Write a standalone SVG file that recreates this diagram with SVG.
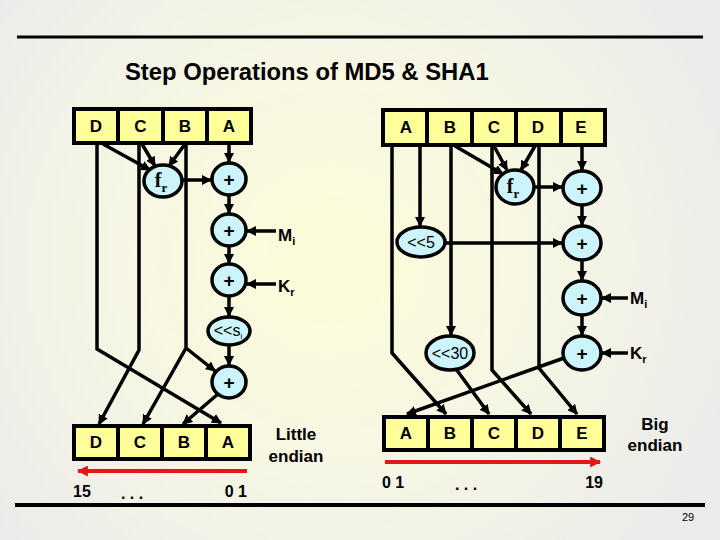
<svg xmlns="http://www.w3.org/2000/svg" width="720" height="540" viewBox="0 0 720 540">
<defs>
<radialGradient id="bg" cx="330" cy="260" r="430" gradientUnits="userSpaceOnUse">
<stop offset="0" stop-color="#fcfcd8"/>
<stop offset="0.5" stop-color="#f6f6e4"/>
<stop offset="1" stop-color="#ebebeb"/>
</radialGradient>
<marker id="ah" viewBox="0 0 10 10" refX="9" refY="5" markerWidth="10" markerHeight="10" markerUnits="userSpaceOnUse" orient="auto"><path d="M0,0 L10,5 L0,10 z" fill="#000"/></marker>
<marker id="rh" viewBox="0 0 10 10" refX="9" refY="5" markerWidth="11" markerHeight="11" markerUnits="userSpaceOnUse" orient="auto"><path d="M0,0 L10,5 L0,10 z" fill="#e01818"/></marker>
</defs>
<style>
.cell{fill:#ffff99;stroke:#000;stroke-width:4}
.op{fill:#ccf4fb;stroke:#000;stroke-width:3.5}
.t{font-family:"Liberation Sans",Arial,sans-serif;font-weight:bold;fill:#000}
.lbl{font-size:17px;text-anchor:middle}
.plus{font-size:19px;text-anchor:middle}
.fr{font-family:"Liberation Serif","Times New Roman",serif;font-weight:bold;font-size:20px;text-anchor:middle}
.ln{fill:none;stroke:#000;stroke-width:3.5;stroke-linejoin:miter}
.arr{marker-end:url(#ah)}
.red{fill:none;stroke:#e01818;stroke-width:4;marker-end:url(#rh)}
.sh{font-family:"Liberation Sans",Arial,sans-serif;font-size:16px;text-anchor:middle;fill:#000}
</style>
<rect width="720" height="540" fill="url(#bg)"/>
<line x1="17" y1="37" x2="703" y2="37" stroke="#000" stroke-width="3"/>
<line x1="15" y1="505" x2="705" y2="505" stroke="#000" stroke-width="4"/>
<text class="t" x="125" y="80" font-size="23.8" font-weight="bold">Step Operations of MD5 &amp; SHA1</text>

<g id="connectors">
<path class="ln arr" d="M97,143 V349 L221,423"/>
<path class="ln arr" d="M139,143 V350 L99,424"/>
<path class="ln arr" d="M186,143 V348 L143,424"/>
<path class="ln arr" d="M186,348 L215,371"/>
<path class="ln arr" d="M218,394 L183,424"/>
<path class="ln arr" d="M103,144 L150,170"/>
<path class="ln arr" d="M142,144 L155,166"/>
<path class="ln arr" d="M185,144 L169,166"/>
<path class="ln arr" d="M182,180 L211,180"/>
<path class="ln arr" d="M229,144 V162"/>
<path class="ln arr" d="M229,195 V213"/>
<path class="ln arr" d="M229,246 V263"/>
<path class="ln arr" d="M229,296 V316"/>
<path class="ln arr" d="M229,345 V365"/>
<path class="ln arr" d="M276,231 H247"/>
<path class="ln arr" d="M276,284 H247"/>

<path class="ln arr" d="M392,145 V353 L446,414"/>
<path class="ln arr" d="M420,145 V226"/>
<path class="ln arr" d="M451,145 V335"/>
<path class="ln arr" d="M492,145 V370 L531,414"/>
<path class="ln arr" d="M539,145 V368 L577,414"/>
<path class="ln arr" d="M582,146 V170"/>
<path class="ln arr" d="M582,205 V225"/>
<path class="ln arr" d="M582,260 V280"/>
<path class="ln arr" d="M582,315 V335"/>
<path class="ln arr" d="M534,187 H562"/>
<path class="ln arr" d="M445,243 H562"/>
<path class="ln arr" d="M628,298 H602"/>
<path class="ln arr" d="M628,353 H602"/>
<path class="ln arr" d="M564,358 L407,414"/>
<path class="ln arr" d="M456,369 L489,414"/>
<path class="ln arr" d="M455,146 L503,174"/>
<path class="ln arr" d="M494,146 L507,170"/>
<path class="ln arr" d="M535,146 L521,170"/>

<path class="red" d="M247,471 H78"/>
<path class="red" d="M385,462 H600"/>
</g>

<g id="md5-in">
<rect class="cell" x="74" y="109" width="44" height="34"/>
<rect class="cell" x="118" y="109" width="45" height="34"/>
<rect class="cell" x="163" y="109" width="44" height="34"/>
<rect class="cell" x="207" y="109" width="44" height="34"/>
<text class="t lbl" x="96" y="132">D</text>
<text class="t lbl" x="140.5" y="132">C</text>
<text class="t lbl" x="185" y="132">B</text>
<text class="t lbl" x="229" y="132">A</text>
</g>
<g id="md5-f">
<ellipse class="op" cx="163" cy="181" rx="19" ry="16"/>
<text class="fr" x="161" y="187">f<tspan font-size="13" dy="5">r</tspan></text>
</g>
<g id="md5-add1"><ellipse class="op" cx="229" cy="179" rx="17" ry="16"/><text class="t plus" x="229" y="186">+</text></g>
<g id="md5-add2"><ellipse class="op" cx="229" cy="230" rx="17" ry="16"/><text class="t plus" x="229" y="237">+</text></g>
<g id="md5-add3"><ellipse class="op" cx="229" cy="280" rx="17" ry="16"/><text class="t plus" x="229" y="287">+</text></g>
<g id="md5-rot"><ellipse class="op" cx="229" cy="331" rx="21" ry="14"/><text class="sh" x="228" y="336" font-size="14">&lt;&lt;s<tspan font-size="8" dy="3">i</tspan></text></g>
<g id="md5-add4"><ellipse class="op" cx="229" cy="382" rx="17" ry="16"/><text class="t plus" x="229" y="389">+</text></g>
<g id="md5-m"><text class="t" x="278" y="241" font-size="17">M<tspan font-size="11" dy="4">i</tspan></text></g>
<g id="md5-k"><text class="t" x="278" y="292" font-size="17">K<tspan font-size="11" dy="4">r</tspan></text></g>
<g id="md5-out">
<rect class="cell" x="74" y="426" width="44" height="33"/>
<rect class="cell" x="118" y="426" width="44" height="33"/>
<rect class="cell" x="162" y="426" width="44" height="33"/>
<rect class="cell" x="206" y="426" width="44" height="33"/>
<text class="t lbl" x="96" y="448">D</text>
<text class="t lbl" x="140" y="448">C</text>
<text class="t lbl" x="184" y="448">B</text>
<text class="t lbl" x="228" y="448">A</text>
</g>
<g id="md5-order">
<text class="t" x="296" y="440" font-size="17" text-anchor="middle">Little</text>
<text class="t" x="296" y="462" font-size="17" text-anchor="middle">endian</text>
<text class="t" x="73" y="497" font-size="16">15</text>
<text class="t" x="132" y="499" font-size="16" text-anchor="middle">. . .</text>
<text class="t" x="247" y="497" font-size="16" text-anchor="end">0 1</text>
</g>

<g id="sha1-in">
<rect class="cell" x="383" y="110" width="44" height="35"/>
<rect class="cell" x="427" y="110" width="45" height="35"/>
<rect class="cell" x="472" y="110" width="44" height="35"/>
<rect class="cell" x="516" y="110" width="45" height="35"/>
<rect class="cell" x="561" y="110" width="44" height="35"/>
<text class="t lbl" x="406" y="133">A</text>
<text class="t lbl" x="450" y="133">B</text>
<text class="t lbl" x="494" y="133">C</text>
<text class="t lbl" x="538" y="133">D</text>
<text class="t lbl" x="581" y="133">E</text>
</g>
<g id="sha1-f">
<ellipse class="op" cx="515" cy="187" rx="19" ry="17"/>
<text class="fr" x="513" y="193">f<tspan font-size="13" dy="5">r</tspan></text>
</g>
<g id="sha1-rot5"><ellipse class="op" cx="421" cy="242" rx="24" ry="15"/><text class="sh" x="421" y="248">&lt;&lt;5</text></g>
<g id="sha1-rot30"><ellipse class="op" cx="450" cy="353" rx="24" ry="17"/><text class="sh" x="450" y="359">&lt;&lt;30</text></g>
<g id="sha1-add1"><ellipse class="op" cx="582" cy="188" rx="19" ry="17"/><text class="t plus" x="582" y="195">+</text></g>
<g id="sha1-add2"><ellipse class="op" cx="582" cy="243" rx="19" ry="17"/><text class="t plus" x="582" y="250">+</text></g>
<g id="sha1-add3"><ellipse class="op" cx="582" cy="298" rx="19" ry="17"/><text class="t plus" x="582" y="305">+</text></g>
<g id="sha1-add4"><ellipse class="op" cx="582" cy="353" rx="19" ry="17"/><text class="t plus" x="582" y="360">+</text></g>
<g id="sha1-m"><text class="t" x="630" y="304" font-size="17">M<tspan font-size="11" dy="4">i</tspan></text></g>
<g id="sha1-k"><text class="t" x="630" y="359" font-size="17">K<tspan font-size="11" dy="4">r</tspan></text></g>
<g id="sha1-out">
<rect class="cell" x="384" y="417" width="44" height="33"/>
<rect class="cell" x="428" y="417" width="44" height="33"/>
<rect class="cell" x="472" y="417" width="44" height="33"/>
<rect class="cell" x="516" y="417" width="44" height="33"/>
<rect class="cell" x="560" y="417" width="44" height="33"/>
<text class="t lbl" x="406" y="439">A</text>
<text class="t lbl" x="450" y="439">B</text>
<text class="t lbl" x="494" y="439">C</text>
<text class="t lbl" x="538" y="439">D</text>
<text class="t lbl" x="582" y="439">E</text>
</g>
<g id="sha1-order">
<text class="t" x="655" y="430" font-size="17" text-anchor="middle">Big</text>
<text class="t" x="655" y="451" font-size="17" text-anchor="middle">endian</text>
<text class="t" x="382" y="488" font-size="16">0 1</text>
<text class="t" x="466" y="490" font-size="16" text-anchor="middle">. . .</text>
<text class="t" x="603" y="488" font-size="16" text-anchor="end">19</text>
</g>
<text x="688" y="521" font-family="Liberation Sans,Arial,sans-serif" font-size="11" text-anchor="middle">29</text>
</svg>
